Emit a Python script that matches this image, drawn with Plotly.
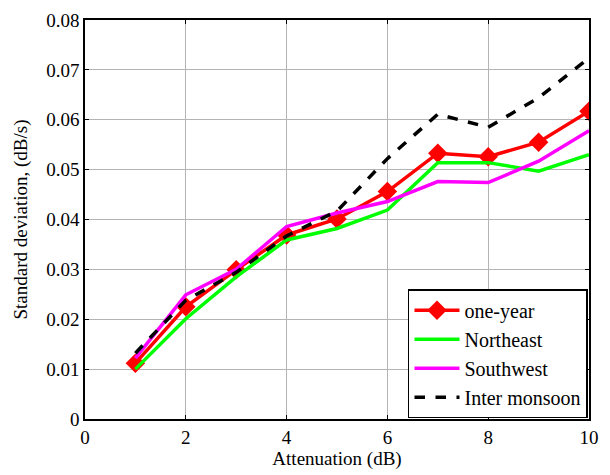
import plotly.graph_objects as go

attenuation = [1, 2, 3, 4, 5, 6, 7, 8, 9, 10]
one_year = [0.0112, 0.0225, 0.0299, 0.0369, 0.0401, 0.0456, 0.0533, 0.0526, 0.0555, 0.0617]
northeast = [0.0100, 0.0201, 0.0285, 0.0359, 0.0382, 0.0419, 0.0514, 0.0514, 0.0497, 0.0530]
southwest = [0.0122, 0.0249, 0.0300, 0.0386, 0.0413, 0.0436, 0.0476, 0.0474, 0.0517, 0.0578]
inter_monsoon = [0.0132, 0.0238, 0.0294, 0.0367, 0.0417, 0.0522, 0.0611, 0.0585, 0.0644, 0.0724]

x_ticks = [0, 2, 4, 6, 8, 10]
y_ticks = [0, 0.01, 0.02, 0.03, 0.04, 0.05, 0.06, 0.07, 0.08]
y_tick_text = ["0", "0.01", "0.02", "0.03", "0.04", "0.05", "0.06", "0.07", "0.08"]

font_family = "Liberation Serif, Times New Roman, serif"

fig = go.Figure()
fig.add_trace(go.Scatter(
    x=attenuation, y=one_year, name="one-year", mode="lines+markers",
    line=dict(color="#ff0000", width=3.5),
    marker=dict(symbol="diamond", size=15, color="#ff0000"),
))
fig.add_trace(go.Scatter(
    x=attenuation, y=northeast, name="Northeast", mode="lines",
    line=dict(color="#00ff00", width=3.5),
))
fig.add_trace(go.Scatter(
    x=attenuation, y=southwest, name="Southwest", mode="lines",
    line=dict(color="#ff00ff", width=3.5),
))
fig.add_trace(go.Scatter(
    x=attenuation, y=inter_monsoon, name="Inter monsoon", mode="lines",
    line=dict(color="#000000", width=3.5, dash="dash"),
))

axis_common = dict(
    showgrid=True, gridcolor="#b4b4b4", gridwidth=1,
    showline=True, linecolor="#000000", linewidth=1.5, mirror="ticks",
    ticks="inside", ticklen=4, tickcolor="#000000",
    zeroline=False,
    tickfont=dict(family=font_family, size=19, color="#000000"),
    title_font=dict(family=font_family, size=19, color="#000000"),
)

fig.update_xaxes(
    range=[0, 10], tickvals=x_ticks, ticktext=[str(v) for v in x_ticks],
    title_text="Attenuation (dB)", title_standoff=0, **axis_common,
)
fig.update_yaxes(
    range=[0, 0.08], tickvals=y_ticks, ticktext=y_tick_text,
    title_text="Standard deviation, (dB/s)", title_standoff=14, **axis_common,
)

fig.update_layout(
    width=610, height=475,
    margin=dict(l=85, r=21, t=10, b=56),
    plot_bgcolor="#ffffff", paper_bgcolor="#ffffff",
    font=dict(family=font_family, size=19, color="#000000"),
    legend=dict(
        x=0.998, y=0.002, xanchor="right", yanchor="bottom",
        bgcolor="#ffffff", bordercolor="#000000", borderwidth=1.5,
        font=dict(family=font_family, size=20, color="#000000"),
        tracegroupgap=0, itemwidth=45,
    ),
)

fig.write_html("out.html")
